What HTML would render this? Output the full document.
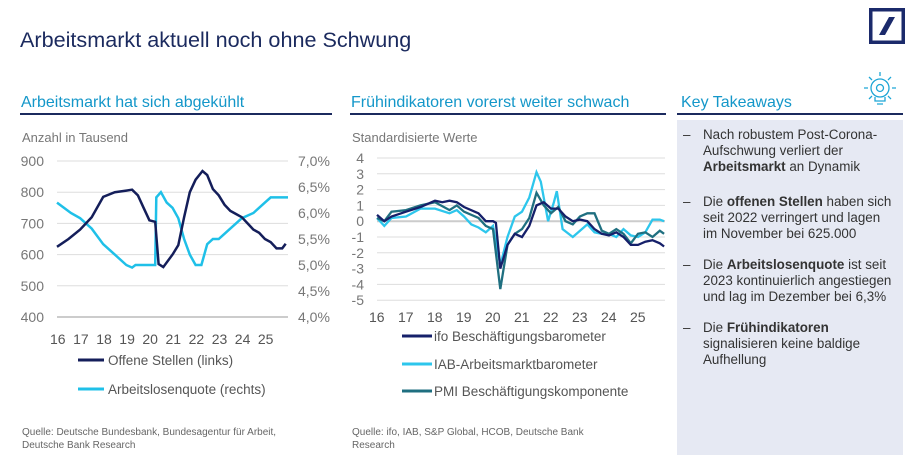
<!DOCTYPE html>
<html><head><meta charset="utf-8">
<style>
body{margin:0;width:915px;height:470px;background:#fff;font-family:"Liberation Sans",sans-serif;position:relative;overflow:hidden}
.a{position:absolute;white-space:nowrap}
.sub{color:#1497c9;font-size:16px}
.line{position:absolute;height:2px;background:#1b2a5e}
.src{color:#666;font-size:10px;line-height:13px}
.panel{position:absolute;left:677px;top:120px;width:226px;height:335px;background:#e6e9f3}
.panel div{position:absolute;left:26px;font-size:13.4px;line-height:16px;color:#333;white-space:nowrap}
.panel span.d{position:absolute;left:-20px}
</style></head><body>
<div class="a" style="left:20px;top:27px;font-size:21.6px;color:#1b2a5e">Arbeitsmarkt aktuell noch ohne Schwung</div>
<svg style="position:absolute;left:869px;top:8px" width="36" height="36"><rect x="1.5" y="1.5" width="33" height="33" fill="none" stroke="#1b2a6b" stroke-width="4"/><polygon points="20,9 26,9 16,27 10,27" fill="#1b2a6b"/></svg>
<div class="a sub" style="left:21px;top:94px">Arbeitsmarkt hat sich abgekühlt</div>
<div class="line" style="left:20px;top:113px;width:312px"></div>
<div class="a sub" style="left:351px;top:94px">Frühindikatoren vorerst weiter schwach</div>
<div class="line" style="left:350px;top:113px;width:316px"></div>
<div class="a sub" style="left:681px;top:94px">Key Takeaways</div>
<div class="line" style="left:677px;top:113px;width:226px"></div>
<svg style="position:absolute;left:860px;top:70px" width="40" height="44" fill="none" stroke="#1ea6d6" stroke-width="1.3"><circle cx="20" cy="18" r="9"/><circle cx="20" cy="18" r="3.5"/><path d="M15 27v4h10v-4M17 34h6M20 2v4M4 18h4M32 18h4M9 7l3 3M31 7l-3 3M9 29l3-3M31 29l-3-3"/></svg>
<div class="a" style="left:22px;top:130px;font-size:13px;color:#777">Anzahl in Tausend</div>
<div class="a" style="left:352px;top:130px;font-size:13px;color:#777">Standardisierte Werte</div>
<svg id="c1" style="position:absolute;left:0;top:140px" width="340" height="270"></svg>
<svg id="c2" style="position:absolute;left:340px;top:140px" width="330" height="270"></svg>
<div class="a src" style="left:22px;top:426px">Quelle: Deutsche Bundesbank, Bundesagentur für Arbeit,<br>Deutsche Bank Research</div>
<div class="a src" style="left:352px;top:426px">Quelle: ifo, IAB, S&amp;P Global, HCOB, Deutsche Bank<br>Research</div>
<div class="panel">
<div style="top:7px"><span class="d">–</span>Nach robustem Post-Corona-<br>Aufschwung verliert der<br><b>Arbeitsmarkt</b> an Dynamik</div>
<div style="top:74px"><span class="d">–</span>Die <b>offenen Stellen</b> haben sich<br>seit 2022 verringert und lagen<br>im November bei 625.000</div>
<div style="top:137px"><span class="d">–</span>Die <b>Arbeitslosenquote</b> ist seit<br>2023 kontinuierlich angestiegen<br>und lag im Dezember bei 6,3%</div>
<div style="top:200px"><span class="d">–</span>Die <b>Frühindikatoren</b><br>signalisieren keine baldige<br>Aufhellung</div>
</div>
<script>
const NS="http://www.w3.org/2000/svg";
const yearTicks=["16","17","18","19","20","21","22","23","24","25"];
const leftTicks=[400,500,600,700,800,900];
const rightPctTicks=["4,0%","4,5%","5,0%","5,5%","6,0%","6,5%","7,0%"];
const vacT=[16.0,16.5,17.0,17.5,18.0,18.5,19.0,19.25,19.5,19.75,20.0,20.25,20.4,20.6,21.0,21.25,21.5,21.75,22.0,22.3,22.5,22.75,23.0,23.25,23.5,23.75,24.0,24.25,24.5,24.75,25.0,25.25,25.5,25.75,25.9];
const vacV=[625,650,680,720,785,800,805,808,790,750,710,705,570,560,600,630,720,800,840,868,855,810,790,760,740,730,720,700,680,670,650,640,620,620,635];
const uT=[16.0,16.3,16.6,17.0,17.5,18.0,18.5,19.0,19.25,19.4,20.25,20.3,20.5,20.75,21.0,21.25,21.5,21.75,22.0,22.25,22.5,22.75,23.0,23.25,23.5,23.75,24.0,24.5,25.0,25.25,26.0];
const uV=[6.2,6.1,6.0,5.9,5.7,5.4,5.2,5.0,4.95,5.0,5.0,6.3,6.4,6.2,6.1,5.9,5.5,5.2,5.0,5.0,5.4,5.5,5.5,5.6,5.7,5.8,5.9,6.0,6.2,6.3,6.3];
const idxTicks=[-5,-4,-3,-2,-1,0,1,2,3,4];
const ifoT=[16,16.25,16.5,17,17.5,18,18.25,18.5,18.75,19,19.5,19.75,20,20.1,20.25,20.5,20.75,21,21.25,21.5,21.75,22,22.25,22.5,22.75,23,23.25,23.5,23.75,24,24.25,24.5,24.75,25,25.25,25.5,25.75,25.9];
const ifoV=[0.4,0,0.3,0.6,0.9,1.3,1.2,1.3,1.2,0.9,0.5,0,0,-0.1,-3.0,-1.5,-0.8,-1.0,-0.3,1.0,1.2,0.8,0.8,0.3,0,0.1,0,-0.5,-0.8,-0.9,-0.7,-1.0,-1.5,-1.5,-1.3,-1.2,-1.4,-1.6];
const iabT=[16,16.25,16.5,17,17.5,18,18.5,18.75,19,19.25,19.5,19.75,20,20.25,20.5,20.75,21,21.25,21.5,21.65,21.9,22.1,22.2,22.4,22.75,23,23.25,23.5,23.75,24,24.25,24.5,24.75,25,25.25,25.5,25.75,25.9];
const iabV=[0.2,-0.3,0.2,0.3,0.8,0.8,0.5,0.7,0.3,-0.2,-0.4,-0.7,-0.3,-2.8,-1.0,0.3,0.6,1.5,3.1,2.5,0,1.2,1.9,-0.5,-1.0,-0.6,-0.2,-0.7,-0.8,-0.8,-1.0,-0.5,-0.9,-1.0,-0.7,0.1,0.1,0];
const pmiT=[16,16.25,16.5,17,17.5,18,18.5,18.75,19,19.5,19.75,20,20.25,20.5,20.75,21,21.25,21.5,21.75,22,22.25,22.5,22.75,23,23.25,23.5,23.75,24,24.25,24.5,24.75,25,25.25,25.5,25.75,25.9];
const pmiV=[0.2,0,0.6,0.7,1.0,1.2,0.7,1.0,0.6,0.2,-0.3,-0.5,-4.3,-1.5,-0.8,-0.5,0.2,1.8,1.0,0.5,0.9,0,-0.2,0.3,0.5,0.5,-0.6,-0.8,-0.5,-0.8,-1.4,-0.8,-0.7,-1.0,-0.6,-0.8];

function el(svg,tag,attrs,text){const e=document.createElementNS(NS,tag);for(const k in attrs)e.setAttribute(k,attrs[k]);if(text!==undefined)e.textContent=text;svg.appendChild(e);return e;}
function path(xs,ys,fx,fy){return xs.map((t,i)=>(i?"L":"M")+fx(t).toFixed(1)+" "+fy(ys[i]).toFixed(1)).join("");}

const c1=document.getElementById("c1");
const x1=t=>57+(t-16)*23.1, yL=v=>21-(v-900)*0.312, yR=p=>21+(7-p)*52;
leftTicks.forEach(v=>{
 if(v>400){const g=el(c1,"line",{x1:57,x2:288,y1:yL(v),y2:yL(v),stroke:"#ddd","stroke-width":1});}
 const t=el(c1,"text",{x:44,y:yL(v)+5,"text-anchor":"end","font-size":14,fill:"#777"},v);
 
});
el(c1,"line",{x1:57,x2:288,y1:yL(400),y2:yL(400),stroke:"#ccc","stroke-width":2});
rightPctTicks.forEach((s,i)=>{const t=el(c1,"text",{x:298,y:yR(4+i*0.5)+5,"font-size":14,fill:"#777"},s);});
yearTicks.forEach((s,i)=>{const t=el(c1,"text",{x:x1(16+i)-7,y:204,"font-size":14,fill:"#555"},s);});
let p=el(c1,"path",{d:path(uT,uV,x1,yR),fill:"none",stroke:"#1fc0e8","stroke-width":2.5});

p=el(c1,"path",{d:path(vacT,vacV,x1,yL),fill:"none",stroke:"#141e5a","stroke-width":2.5});

[["Offene Stellen (links)","#141e5a",220],["Arbeitslosenquote (rechts)","#1fc0e8",249]].forEach(l=>{
 const a=el(c1,"line",{x1:78,x2:104,y1:l[2],y2:l[2],stroke:l[1],"stroke-width":3});
 const t=el(c1,"text",{x:108,y:l[2]+5,"font-size":13.5,fill:"#555"},l[0]);
});

const c2=document.getElementById("c2");
const x2=t=>37+(t-16)*29, y2=v=>18+(4-v)*15.8;
idxTicks.forEach(v=>{
 const g=el(c2,"line",{x1:37,x2:325,y1:y2(v),y2:y2(v),stroke:v===0?"#ccc":"#ddd","stroke-width":v===0?2:1});
 const t=el(c2,"text",{x:24,y:y2(v)+5,"text-anchor":"end","font-size":14,fill:"#777"},v);
});
yearTicks.forEach((s,i)=>{const t=el(c2,"text",{x:x2(16+i)-8,y:182,"font-size":14,fill:"#555"},s);});
[[iabT,iabV,"#2dc6ec","iab-line"],[pmiT,pmiV,"#1f6f80","pmi-line"],[ifoT,ifoV,"#16206a","ifo-line"]].forEach(s=>{
 const q=el(c2,"path",{d:path(s[0],s[1],x2,y2),fill:"none",stroke:s[2],"stroke-width":2.3});
 
});
[["ifo Beschäftigungsbarometer","#16206a",196],["IAB-Arbeitsmarktbarometer","#2dc6ec",224],["PMI Beschäftigungskomponente","#1f6f80",251]].forEach(l=>{
 const a=el(c2,"line",{x1:62,x2:92,y1:l[2],y2:l[2],stroke:l[1],"stroke-width":3});
 const t=el(c2,"text",{x:94,y:l[2]+5,"font-size":13.5,fill:"#555"},l[0]);
});
</script>
</body></html>
